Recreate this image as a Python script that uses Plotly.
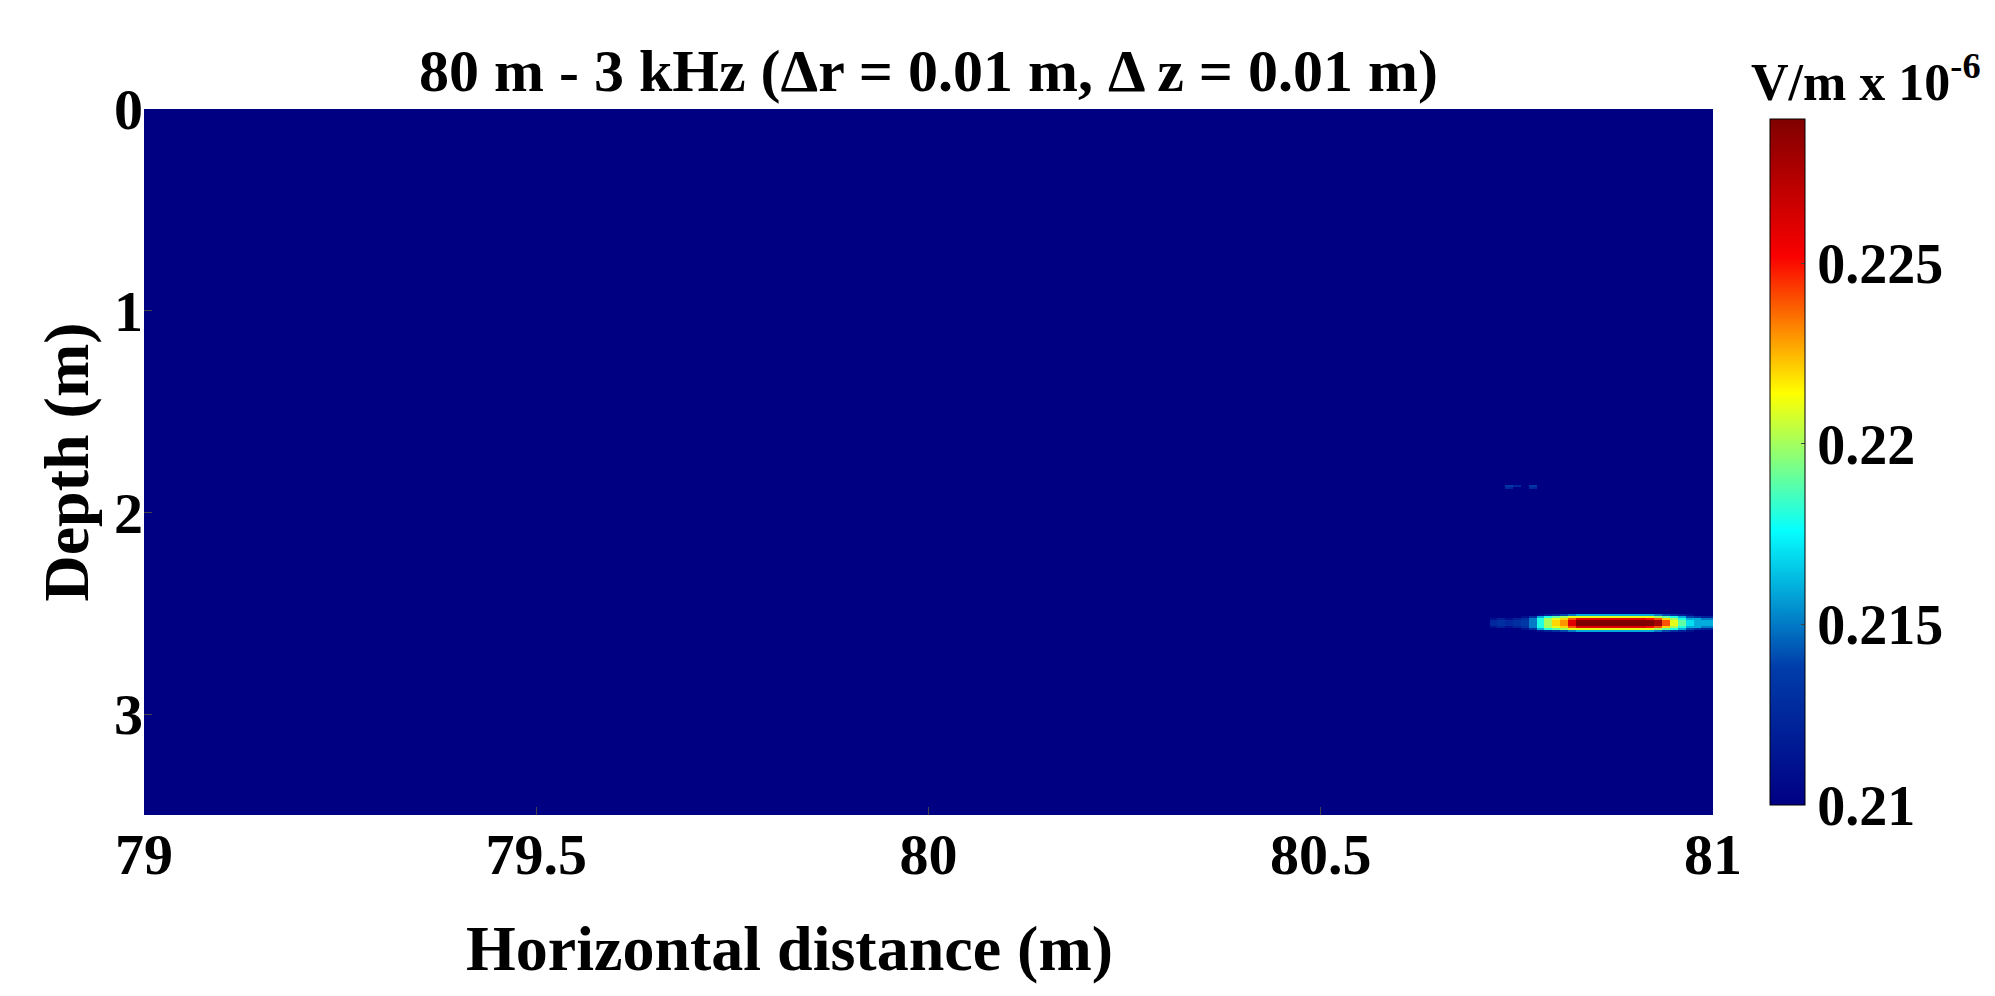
import numpy as np
import plotly.graph_objects as go

# Grid (m)
x_start, x_end, dx = 79.0, 81.0, 0.01
z_start, z_end, dz = 0.0, 3.5, 0.01
background = 0.21  # V/m x 1e-6

# Hotspot profiles: x positions 80.72 .. 81.00 (step 0.01)
hot_x = [80.72, 80.73, 80.74, 80.75, 80.76, 80.77, 80.78, 80.79, 80.80, 80.81,
         80.82, 80.83, 80.84, 80.85, 80.86, 80.87, 80.88, 80.89, 80.90, 80.91,
         80.92, 80.93, 80.94, 80.95, 80.96, 80.97, 80.98, 80.99, 81.00]
row_outer = [0.210, 0.210, 0.210, 0.210, 0.210, 0.210, 0.211, 0.212, 0.213, 0.214,
             0.215, 0.216, 0.216, 0.216, 0.216, 0.216, 0.216, 0.216, 0.216, 0.216,
             0.216, 0.215, 0.214, 0.213, 0.212, 0.211, 0.210, 0.210, 0.210]
row_edge = [0.210, 0.210, 0.210, 0.210, 0.211, 0.213, 0.216, 0.218, 0.219, 0.220,
            0.221, 0.221, 0.221, 0.221, 0.221, 0.221, 0.221, 0.221, 0.221, 0.221,
            0.221, 0.220, 0.219, 0.218, 0.216, 0.214, 0.213, 0.212, 0.212]
row_inner = [0.211, 0.212, 0.211, 0.212, 0.213, 0.215, 0.218, 0.220, 0.221, 0.222,
             0.224, 0.226, 0.226, 0.226, 0.226, 0.226, 0.226, 0.226, 0.226, 0.226,
             0.225, 0.224, 0.222, 0.220, 0.218, 0.216, 0.216, 0.215, 0.215]
row_core = [0.2125, 0.213, 0.2125, 0.213, 0.2135, 0.215, 0.218, 0.220, 0.222, 0.223,
            0.226, 0.229, 0.229, 0.229, 0.229, 0.229, 0.229, 0.229, 0.229, 0.229,
            0.229, 0.228, 0.224, 0.221, 0.219, 0.217, 0.216, 0.216, 0.216]
hot_rows = {2.51: row_outer, 2.52: row_edge, 2.53: row_inner, 2.54: row_core,
            2.55: row_core, 2.56: row_core, 2.57: row_inner, 2.58: row_edge, 2.59: row_outer}

# Faint spots near 1.87 m depth
spot_x = [80.74, 80.75, 80.77, 80.74, 80.77]
spot_z = [1.87, 1.87, 1.87, 1.88, 1.88]
spot_v = [0.2135, 0.2125, 0.2135, 0.2125, 0.2125]

cb_ticks = [0.21, 0.215, 0.22, 0.225]

xs = np.round(np.arange(x_start, x_end + dx / 2, dx), 2)
zs = np.round(np.arange(z_start, z_end + dz / 2, dz), 2)
Z = np.full((len(zs), len(xs)), background)
xi = {v: i for i, v in enumerate(xs)}
zi = {v: i for i, v in enumerate(zs)}
for depth, row in hot_rows.items():
    for xv, val in zip(hot_x, row):
        Z[zi[round(depth, 2)], xi[round(xv, 2)]] = val
for xv, zv, val in zip(spot_x, spot_z, spot_v):
    Z[zi[zv], xi[xv]] = val

font = "Liberation Serif"
L, R, T, B = 136, 1705, 101, 807
W, H = 1995, 996
pw = R - L
bold = lambda s, c="black": dict(family=font, size=s, color=c, weight="bold")

fig = go.Figure(go.Heatmap(
    x=xs, y=zs, z=Z, colorscale="Jet", zmin=0.21, zmax=0.229,
    colorbar=dict(x=(1752 - L) / pw, xanchor="left", xref="paper", y=1.0, yanchor="top", len=1.0,
                  thickness=35, outlinewidth=1, outlinecolor="black",
                  tickvals=cb_ticks, ticktext=[f"{t:g}" for t in cb_ticks],
                  tickfont=bold(56), ticks="inside", ticklen=4),
))
fig.update_layout(
    width=W, height=H, paper_bgcolor="white", plot_bgcolor="white",
    margin=dict(l=L, r=W - R, t=T, b=H - B),
    title=dict(text="80 m - 3 kHz (Δr = 0.01 m, Δ z = 0.01 m)", x=(L + R) / 2 / W,
               xanchor="center", y=1 - 62 / H, yanchor="middle", font=bold(60)),
    xaxis=dict(range=[79, 81], tickvals=[79, 79.5, 80, 80.5, 81], showgrid=False, zeroline=False,
               ticks="inside", ticklen=8, tickfont=bold(58)),
    yaxis=dict(range=[3.5, 0], tickvals=[0, 1, 2, 3], showgrid=False, zeroline=False,
               ticks="inside", ticklen=8, tickfont=bold(58),
               title=dict(text="Depth (m)", font=bold(64), standoff=4)),
    annotations=[
        dict(text="Horizontal distance (m)", xref="paper", yref="paper",
             x=(781 - L) / pw, y=1 - (940 - T) / (B - T), xanchor="center", yanchor="middle",
             showarrow=False, font=bold(64)),
        dict(text="V/m x 10<sup>-6</sup>", xref="paper", yref="paper",
             x=(1975 - L) / pw, y=1.0, xanchor="right", yanchor="bottom", yshift=-4,
             showarrow=False, font=bold(52)),
    ],
)
fig.write_html("out.html")
